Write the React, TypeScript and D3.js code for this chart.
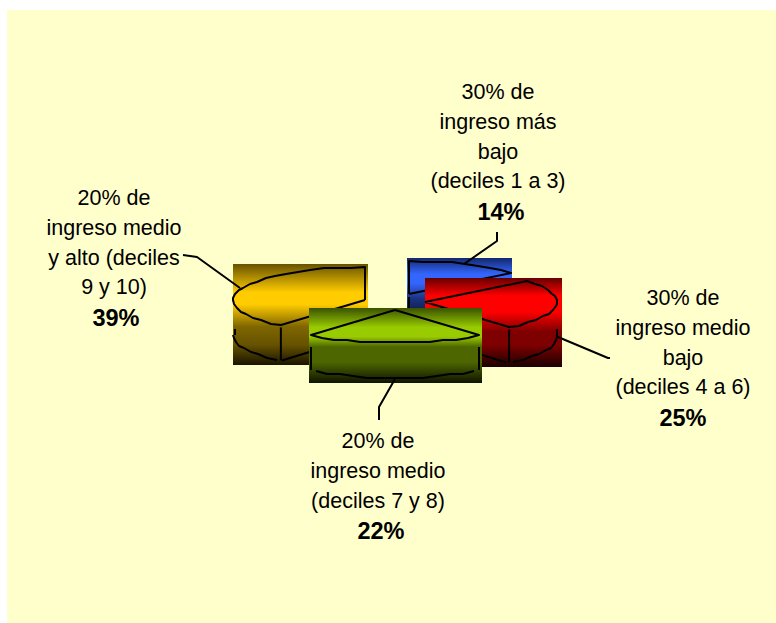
import React from "react";
import * as d3 from "d3";

const labels = [
  ["30% de", "ingreso más", "bajo", "(deciles 1 a 3)"],
  ["30% de", "ingreso medio", "bajo", "(deciles 4 a 6)"],
  ["20% de", "ingreso medio", "(deciles 7 y 8)"],
  ["20% de", "ingreso medio", "y alto (deciles", "9 y 10)"],
];
const values = [14, 25, 22, 39];
const percentLabels = ["14%", "25%", "22%", "39%"];
const gradientStops: [number, string][][] = [
  [[0, "#14286e"], [0.27, "#3366ff"], [0.42, "#3366ff"], [0.68, "#1a3380"], [1, "#0a1433"]],
  [[0, "#660000"], [0.2, "#ff0000"], [0.38, "#ff0000"], [0.6, "#7f0000"], [0.75, "#7f0000"], [1, "#1a0000"]],
  [[0, "#3a5200"], [0.26, "#99cc00"], [0.38, "#99cc00"], [0.52, "#4d6600"], [0.72, "#4d6600"], [1, "#0f1400"]],
  [[0, "#665200"], [0.28, "#ffcc00"], [0.4, "#ffcc00"], [0.62, "#7f6600"], [0.8, "#665200"], [1, "#1a1400"]],
];

const W = 776, H = 623;
const RX = 132, RY = 33, DEPTH = 35, SW = 2;
const DEG = Math.PI / 180;
const layout = [
  { cx: 409, cy: 294, box: [407, 258, 105, 60], anchor: [497, 241], elbow: [497, 232], label: [498, 99], edge: [464, 264], bdx: 3 },
  { cx: 425, cy: 302, box: [425, 278, 137, 89], anchor: [608, 358], elbow: [610, 358], label: [683, 305], edge: [558, 337], bdx: 0 },
  { cx: 395, cy: 310, box: [309, 308, 173, 75], anchor: [379, 407], elbow: [379, 420], label: [378, 448], edge: [395, 379], bdx: 3 },
  { cx: 365, cy: 300, box: [233, 264, 135, 101], anchor: [197, 257], elbow: [183, 255], label: [114, 205], edge: [240, 288], bdx: 2 },
];
const sides: [number, number][][] = [[], [[90, 138]], [[143, 217]], [[222, 270]]];

const pie = d3.pie<number>().sort(null)(values);
const line = d3.line<[number, number]>().curve(d3.curveLinear);
const STEP = 6 * DEG;

function arcPts(cx: number, cy: number, a0: number, a1: number): [number, number][] {
  const n = Math.max(1, Math.round((a1 - a0) / STEP));
  const s = d3.scaleLinear().domain([0, n]).range([a0, a1]);
  return d3.range(n + 1).map((i) => {
    const a = s(i);
    const x = Math.round(cx + RX * Math.sin(a));
    const y = cy - RY * Math.cos(a);
    const yy = i === 0 || i === n ? Math.round(y) : Math.round(y / 2) * 2;
    return [x, yy] as [number, number];
  });
}

const Ln = ({ d }: { d: string }) => <path d={d} fill="none" stroke="#000" strokeWidth={SW} strokeLinejoin="round" />;

export default function App() {
  return (
    <svg width={W} height={H} viewBox={`0 0 ${W} ${H}`} style={{ position: "fixed", left: 0, top: 0, display: "block" }} fontFamily="Liberation Sans, Arial, sans-serif">
      <defs>
        {gradientStops.map((stops, i) => (
          <linearGradient key={i} id={`g${i}`} x1="0" y1="0" x2="0" y2="1">
            {stops.map(([o, c], j) => <stop key={j} offset={o} stopColor={c} />)}
          </linearGradient>
        ))}
      </defs>
      <rect width={W} height={H} fill="#fff" />
      <rect x={7} y={10} width={W - 7} height={H - 10} fill="#ffffcc" />
      {[0, 3, 1, 2].map((i) => {
        const d = pie[i], L = layout[i];
        const [bx, by, bw, bh] = L.box;
        const top = arcPts(L.cx, L.cy, d.startAngle, d.endAngle);
        const path = line([[L.cx, L.cy], ...top, [L.cx, L.cy]]) as string;
        const px = (a: number) => L.cx + RX * Math.sin(a);
        const py = (a: number) => L.cy - RY * Math.cos(a);
        return (
          <g key={i}>
            <rect x={bx} y={by} width={bw} height={bh} fill={`url(#g${i})`} />
            <Ln d={path} />
            {sides[i].map(([a0, a1], k) => (
              <Ln key={k} d={line(arcPts(L.cx, L.cy + DEPTH, a0 * DEG, a1 * DEG)) as string} />
            ))}
            {i === 0 && <Ln d={`M${L.cx},${L.cy + 3}V${L.cy + 14}`} />}
            {i === 1 && (
              <>
                <Ln d={line([[px(d.endAngle), py(d.endAngle) + 2], [px(d.endAngle), py(d.endAngle) + DEPTH]]) as string} />
                <Ln d={line([[px(d.endAngle) - 3, py(d.endAngle) + DEPTH], [L.cx, L.cy + DEPTH]]) as string} />
                <Ln d={`M${L.cx + RX},${L.cy + 27}V${L.cy + DEPTH}`} />
              </>
            )}
            {i === 2 && (
              <>
                <Ln d={`M${Math.round(px(d.startAngle))},${L.cy + 37}V${L.cy + 60}`} />
                <Ln d={`M${Math.round(px(d.endAngle))},${L.cy + 37}V${L.cy + 60}`} />
              </>
            )}
            {i === 3 && (
              <>
                <Ln d={line([[px(d.startAngle), py(d.startAngle) + 2], [px(d.startAngle), py(d.startAngle) + DEPTH]]) as string} />
                <Ln d={line([[px(d.startAngle) + 1, py(d.startAngle) + DEPTH], [L.cx, L.cy + DEPTH]]) as string} />
                <Ln d={`M${L.cx - RX + 2},${L.cy + 29}V${L.cy + DEPTH}`} />
              </>
            )}
          </g>
        );
      })}
      {layout.map((L, i) => (
        <Ln key={i} d={line([L.edge as [number, number], L.anchor as [number, number], L.elbow as [number, number]]) as string} />
      ))}
      {labels.map((lines, i) => {
        const [x, y] = layout[i].label;
        return (
          <g key={i} textAnchor="middle" fill="#000">
            {lines.map((t, j) => (
              <text key={j} x={x} y={y + j * 29.8} fontSize={21.5}>{t}</text>
            ))}
            <text x={x + layout[i].bdx} y={y + lines.length * 29.8 + 2} fontSize={23.5} fontWeight="bold">{percentLabels[i]}</text>
          </g>
        );
      })}
    </svg>
  );
}
